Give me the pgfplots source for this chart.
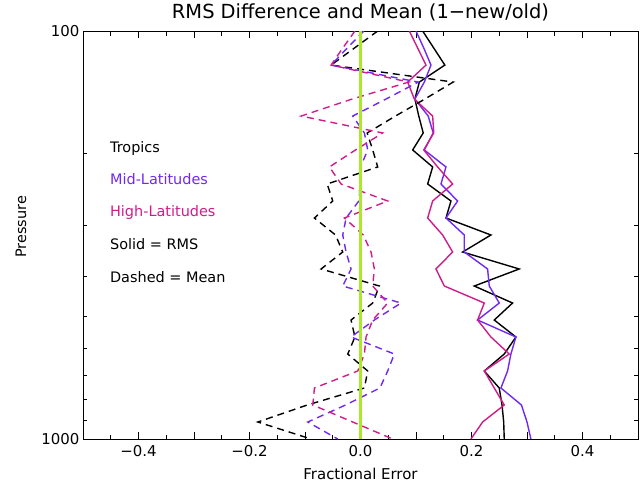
\documentclass[border=0pt]{standalone}
\usepackage{fontspec}
\setmainfont{DejaVu Sans}
\usepackage{pgfplots}
\pgfplotsset{compat=1.18}
\definecolor{midlat}{RGB}{112,40,245}
\definecolor{highlat}{RGB}{208,28,138}
\definecolor{zeroline}{RGB}{170,232,40}
\begin{document}
\begin{tikzpicture}
\useasboundingbox (-83bp,-49bp) rectangle (558bp,439bp);
\begin{axis}[
  scale only axis, width=555bp, height=408bp,
  xmin=-0.5, xmax=0.5, ymode=log, ymin=100, ymax=1000, y dir=reverse,
  axis line style={line width=0.9bp},
  xtick={-0.4,-0.3,-0.2,-0.1,0,0.1,0.2,0.3,0.4},
  xticklabels={−0.4,,−0.2,,0.0,,0.2,,0.4},
  minor xtick={-0.45,-0.35,-0.25,-0.15,-0.05,0.05,0.15,0.25,0.35,0.45},
  ytick={100,1000}, yticklabels={100,1000},
  minor ytick={200,300,400,500,600,700,800,900},
  major tick length=7bp, minor tick length=4.5bp,
  every tick/.style={black, line width=0.9bp},
  tick label style={font=\fontsize{15}{18}\selectfont},
  xticklabel style={yshift=-3bp},
  title={RMS Difference and Mean (1−new/old)},
  title style={font=\fontsize{19.5}{24}\selectfont, at={(axis description cs:0.5,1)}, anchor=south, yshift=0bp},
  xlabel={Fractional Error},
  xlabel style={font=\fontsize{15}{18}\selectfont, at={(axis description cs:0.5,0)}, anchor=north, yshift=-26bp},
  ylabel={Pressure},
  ylabel style={font=\fontsize{14.5}{17}\selectfont, at={(axis description cs:-0.112,0.52)}, anchor=center, rotate=0},
  clip=true,
]
% Black solid (Tropics RMS)
\addplot[black, line width=1.4bp] coordinates {
(0.112,100) (0.132,110.1) (0.152,121.2) (0.106,133.4) (0.098,146.8) (0.105,161.6) (0.113,177.8) (0.094,195.7) (0.130,215.4) (0.121,237.1) (0.163,261.0) (0.154,287.3) (0.235,316.2) (0.184,348.1) (0.286,383.1) (0.205,421.7) (0.274,464.2) (0.241,510.9) (0.280,562.3) (0.259,619.0) (0.223,681.3) (0.250,749.9) (0.255,825.4) (0.258,908.5) (0.259,1000)};
% Purple solid (Mid-Latitudes RMS)
\addplot[midlat, line width=1.4bp] coordinates {
(0.100,100) (0.114,110.1) (0.127,121.2) (0.115,133.4) (0.098,146.8) (0.122,161.6) (0.131,177.8) (0.115,195.7) (0.154,215.4) (0.145,237.1) (0.175,261.0) (0.154,287.3) (0.187,316.2) (0.187,348.1) (0.229,383.1) (0.232,421.7) (0.250,464.2) (0.211,510.9) (0.280,562.3) (0.271,619.0) (0.265,681.3) (0.253,749.9) (0.290,825.4) (0.300,908.5) (0.307,1000)};
% Magenta solid (High-Latitudes RMS)
\addplot[highlat, line width=1.4bp] coordinates {
(0.088,100) (0.103,110.1) (0.118,121.2) (0.085,133.4) (0.097,146.8) (0.130,161.6) (0.132,177.8) (0.114,195.7) (0.139,215.4) (0.166,237.1) (0.130,261.0) (0.121,287.3) (0.148,316.2) (0.166,348.1) (0.136,383.1) (0.151,421.7) (0.223,464.2) (0.211,510.9) (0.235,562.3) (0.268,619.0) (0.223,681.3) (0.241,749.9) (0.259,825.4) (0.220,908.5) (0.199,1000)};
% Black dashed (Tropics mean)
\addplot[black, line width=1.4bp, dash pattern=on 7bp off 5bp] coordinates {
(0.031,100) (-0.011,110.1) (-0.053,121.2) (0.167,133.4) (0.116,146.8) (0.063,161.6) (0.012,177.8) (0.022,195.7) (0.031,215.4) (-0.060,237.1) (-0.050,261.0) (-0.083,287.3) (-0.045,316.2) (-0.032,348.1) (-0.071,383.1) (0.034,421.7) (0.022,464.2) (-0.017,510.9) (-0.010,562.3) (-0.023,619.0) (0.013,681.3) (0.007,749.9) (-0.096,825.4) (-0.185,908.5) (-0.089,1000)};
% Purple dashed (Mid-Latitudes mean)
\addplot[midlat, line width=1.4bp, dash pattern=on 7bp off 5bp] coordinates {
(0.006,100) (-0.024,110.1) (-0.053,121.2) (0.104,133.4) (0.046,146.8) (-0.014,161.6) (0.007,177.8) (0.013,195.7) (0.000,215.4) (0.000,237.1) (-0.003,261.0) (-0.026,287.3) (-0.032,316.2) (-0.026,348.1) (-0.017,383.1) (-0.032,421.7) (0.073,464.2) (0.025,510.9) (-0.017,562.3) (0.061,619.0) (0.049,681.3) (0.035,749.9) (-0.027,825.4) (-0.095,908.5) (-0.041,1000)};
% Magenta dashed (High-Latitudes mean)
\addplot[highlat, line width=1.4bp, dash pattern=on 7bp off 5bp] coordinates {
(-0.010,100) (-0.032,110.1) (-0.053,121.2) (0.087,133.4) (-0.015,146.8) (-0.107,161.6) (0.040,177.8) (-0.009,195.7) (-0.056,215.4) (-0.035,237.1) (0.049,261.0) (-0.029,287.3) (0.005,316.2) (0.019,348.1) (0.025,383.1) (0.022,421.7) (0.049,464.2) (0.022,510.9) (0.010,562.3) (0.007,619.0) (-0.005,681.3) (-0.083,749.9) (-0.086,825.4) (-0.014,908.5) (0.058,1000)};
% zero line
\addplot[zeroline, line width=2.6bp] coordinates {(0,100) (0,1000)};
\node[anchor=mid west, font=\fontsize{14.5}{17}\selectfont, text=black] at (axis description cs:0.0425,0.7083) {Tropics};
\node[anchor=mid west, font=\fontsize{14.5}{17}\selectfont, text=midlat] at (axis description cs:0.0425,0.6299) {Mid-Latitudes};
\node[anchor=mid west, font=\fontsize{14.5}{17}\selectfont, text=highlat] at (axis description cs:0.0425,0.5515) {High-Latitudes};
\node[anchor=mid west, font=\fontsize{14.5}{17}\selectfont, text=black] at (axis description cs:0.0425,0.4706) {Solid = RMS};
\node[anchor=mid west, font=\fontsize{14.5}{17}\selectfont, text=black] at (axis description cs:0.0425,0.3897) {Dashed = Mean};
\end{axis}
\end{tikzpicture}
\end{document}
